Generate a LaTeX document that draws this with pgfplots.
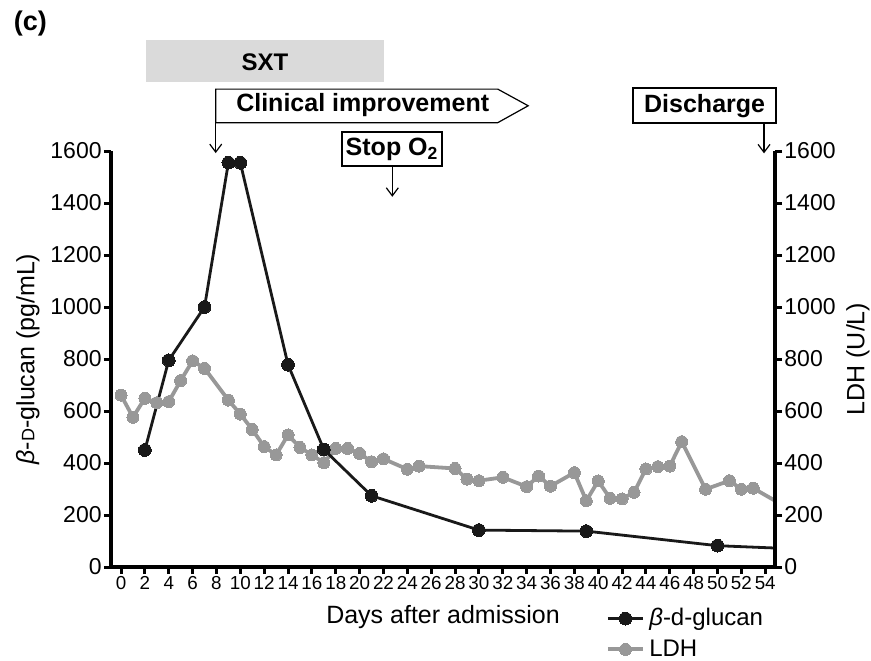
\documentclass[border=0pt]{standalone}
\usepackage{pgfplots}
\pgfplotsset{compat=1.18}
\usepackage{fontspec}
\setmainfont{Liberation Sans}
\usetikzlibrary{arrows.meta}
\definecolor{ldh}{RGB}{152,152,152}
\definecolor{bdg}{RGB}{25,25,25}
\definecolor{sxt}{RGB}{218,218,218}
\begin{document}
\begin{tikzpicture}
\useasboundingbox (-55.5pt,-46.5pt) rectangle (380pt,283.5pt);
\begin{axis}[
  scale only axis, width=332pt, height=208pt,
  xmin=-0.84, xmax=54.82, ymin=0, ymax=1600,
  axis x line=bottom, axis y line=left,
  axis line style={-, line width=2pt, black},
  xtick={0,2,...,54}, ytick={0,200,...,1600},
  tick align=outside, major tick length=3.5pt,
  tick style={line width=1.5pt, black},
  /pgf/number format/assume math mode=true,
  /pgf/number format/1000 sep={},
  xticklabel style={font=\fontsize{9.4}{10}\selectfont, inner sep=1pt},
  yticklabel style={font=\fontsize{11.5}{12}\selectfont, inner sep=1pt},
  xlabel={Days after admission},
  ylabel={\textit{β}-{\fontsize{9}{10}\selectfont D}-glucan (pg/mL)},
  label style={font=\fontsize{12.5}{14}\selectfont},
  xlabel style={at={(axis description cs:0.5,-0.12)}, anchor=center},
  ylabel style={at={(axis description cs:-0.125,0.5)}, anchor=center},
  clip=false,
  reverse legend,
  legend style={draw=none, fill=none, at={(axis description cs:0.745,-0.088)}, anchor=north west,
    font=\fontsize{12}{14}\selectfont, row sep=1pt, inner sep=0pt, nodes={inner sep=2.2pt}},
  legend cell align=left,
  legend image code/.code={\draw[mark repeat=2,mark phase=2,#1] plot coordinates {(0pt,0pt) (8.75pt,0pt) (17.5pt,0pt)};},
]
% LDH
\addplot[color=ldh, line width=1.9pt, mark=*, mark size=3pt, mark options={fill=ldh, draw=ldh, line width=0pt}] coordinates {
(0,661) (1,576) (2,649) (3,632) (4,636) (5,717) (6,793) (7,764) (9,642) (10,588) (11,529) (12,463) (13,431) (14,508) (15,460) (16,431) (17,401) (18,456) (19,456) (20,437) (21,405) (22,416) (24,376) (25,388) (28,379) (29,338) (30,332) (32,345) (34,309) (35,350) (36,311) (38,363) (39,255) (40,331) (41,264) (42,262) (43,287) (44,377) (45,386) (46,388) (47,482) (49,299) (51,332) (52,299) (53,303)
};
\addlegendentry{LDH}
\addplot[color=ldh, line width=1.9pt, forget plot] coordinates {(53,303) (54.82,255)};
% beta-D-glucan
\addplot[color=bdg, line width=1.4pt, mark=*, mark size=3.2pt, mark options={fill=bdg, draw=bdg, line width=0pt}] coordinates {
(2,450) (4,795) (7,1000) (9,1555) (10,1555) (14,778) (17,452) (21,274) (30,142) (39,138) (50,82)
};
\addlegendentry{\textit{β}-d-glucan}
\addplot[color=bdg, line width=1.4pt, forget plot] coordinates {(50,82) (54.82,73)};

% annotations
\fill[sxt] (axis cs:2.1,1865) rectangle (axis cs:22.05,2027);
\node[font=\bfseries\fontsize{12}{14}\selectfont] at (axis cs:12.07,1942) {SXT};
\draw[line width=0.6pt] (axis cs:7.94,1709) -- (axis cs:7.94,1838) -- (axis cs:31.58,1838) -- (axis cs:34.13,1774) -- (axis cs:31.58,1709) -- cycle;
\draw[line width=0.6pt, -{Straight Barb[length=4pt,width=6pt]}] (axis cs:7.94,1709) -- (axis cs:7.94,1592);
\node[font=\bfseries\fontsize{12.5}{14}\selectfont] at (axis cs:20.26,1776) {Clinical improvement};
\draw[line width=1pt, fill=white] (axis cs:18.5,1542) rectangle (axis cs:26.93,1674);
\node[font=\bfseries\fontsize{12.5}{14}\selectfont] at (axis cs:22.72,1608) {Stop O\textsubscript{2}};
\draw[line width=0.6pt, -{Straight Barb[length=4pt,width=6pt]}] (axis cs:22.74,1542) -- (axis cs:22.74,1424);
\draw[line width=1pt, fill=white] (axis cs:42.94,1707) rectangle (axis cs:54.9,1841);
\node[font=\bfseries\fontsize{12.5}{14}\selectfont] at (axis cs:48.92,1774) {Discharge};
\draw[line width=0.6pt, -{Straight Barb[length=4pt,width=6pt]}] (axis cs:53.9,1707) -- (axis cs:53.9,1591);
\node[font=\bfseries\fontsize{13.5}{15}\selectfont] at (axis cs:-7.6,2090) {(c)};
\end{axis}
\begin{axis}[
  scale only axis, width=332pt, height=208pt,
  xmin=-0.84, xmax=54.82, ymin=0, ymax=1600,
  axis x line=none, axis y line=right,
  axis line style={-, line width=2pt, black},
  ytick={0,200,...,1600},
  tick align=outside, major tick length=3.5pt,
  tick style={line width=1.5pt, black},
  /pgf/number format/assume math mode=true,
  /pgf/number format/1000 sep={},
  yticklabel style={font=\fontsize{11.5}{12}\selectfont, inner sep=1pt},
  ylabel={LDH (U/L)},
  label style={font=\fontsize{12.5}{14}\selectfont},
  ylabel style={at={(axis description cs:1.125,0.5)}, anchor=center},
]
\end{axis}
\end{tikzpicture}
\end{document}
